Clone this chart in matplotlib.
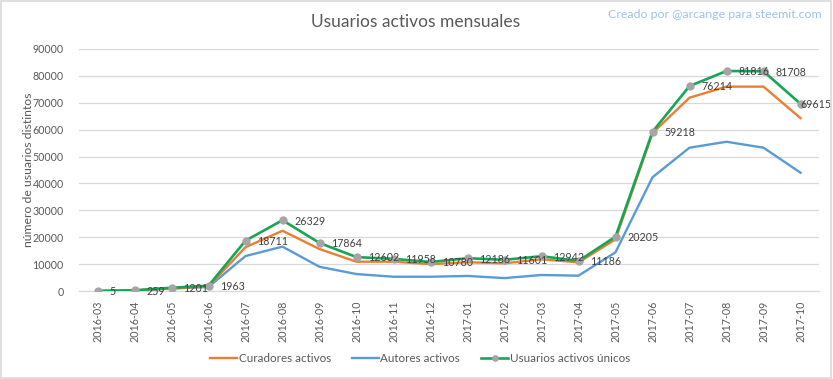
import matplotlib
matplotlib.use("Agg")
import matplotlib.pyplot as plt
from matplotlib.patches import Rectangle

months = ["2016-03", "2016-04", "2016-05", "2016-06", "2016-07", "2016-08", "2016-09",
          "2016-10", "2016-11", "2016-12", "2017-01", "2017-02", "2017-03", "2017-04",
          "2017-05", "2017-06", "2017-07", "2017-08", "2017-09", "2017-10"]
curadores = [0, 200, 1000, 1700, 16300, 22400, 15600, 10900, 10900, 10000, 10700,
             10300, 11800, 10650, 19200, 58700, 71900, 76000, 76000, 64300]
autores = [0, 200, 900, 1500, 13000, 16500, 9000, 6300, 5300, 5300, 5600,
           4800, 5950, 5700, 14400, 42300, 53300, 55500, 53300, 44000]
unicos = [5, 259, 1201, 1963, 18711, 26329, 17864, 12602, 11958, 10780, 12186,
          11601, 12942, 11186, 20205, 59218, 76214, 81816, 81708, 69615]
yticks = [0, 10000, 20000, 30000, 40000, 50000, 60000, 70000, 80000, 90000]

FONT = ["Lato", "DejaVu Sans"]
plt.rcParams["font.family"] = FONT
GRAY = "#595959"
FS = 7.7

fig = plt.figure(figsize=(8.33, 3.79), dpi=100)
fig.patches.append(Rectangle((0.001, 0.002), 0.997, 0.995, transform=fig.transFigure,
                             fill=False, edgecolor="#d9d9d9", linewidth=1.2))
ax = fig.add_axes([79 / 833, 1 - 291 / 379, 740 / 833, 242 / 379])

x = list(range(len(months)))
ax.plot(x, curadores, color="#ed7d31", lw=1.7, label="Curadores activos", zorder=3)
ax.plot(x, autores, color="#5b9bd5", lw=1.7, label="Autores activos", zorder=2)
ax.plot(x, unicos, color="#17a556", lw=1.9, marker="o", markersize=5,
        markerfacecolor="#a5a5a5", markeredgecolor="#a5a5a5",
        label="Usuarios activos únicos", zorder=4)

n = len(unicos)
for i, (xi, v) in enumerate(zip(x, unicos)):
    dx = 8.3 if i < n - 1 else -0.3
    ax.annotate(str(v), (xi, v), xytext=(dx, -0.6), textcoords="offset points",
                ha="left", va="center", fontsize=FS, color="#404040", zorder=5)

ax.set_xlim(-0.5, len(months) - 0.5)
ax.set_ylim(0, 90000)
ax.set_yticks(yticks)
ax.set_yticklabels([str(t) for t in yticks])
ax.set_xticks(x)
ax.set_xticklabels(months, rotation=90)
ax.tick_params(axis="both", length=0, colors=GRAY, labelsize=FS)
ax.tick_params(axis="y", pad=11)
ax.tick_params(axis="x", pad=7)
ax.grid(axis="y", color="#d9d9d9", linewidth=0.9)
ax.set_axisbelow(True)
for s in ["top", "right", "left"]:
    ax.spines[s].set_visible(False)
ax.spines["bottom"].set_color("#d9d9d9")
ax.spines["bottom"].set_linewidth(0.9)

ax.set_ylabel("número de usuarios distintos", color=GRAY, fontsize=8.8)
ax.yaxis.set_label_coords((34 - 79) / 740, 0.5)

fig.text(416 / 833, 1 - 22 / 379, "Usuarios activos mensuales", ha="center", va="center",
         fontsize=12.5, color=GRAY)
fig.text(822 / 833, 1 - 15 / 379, "Creado por @arcange para steemit.com", ha="right",
         va="center", fontsize=8.9, color="#9dc3e6")

leg = fig.legend(loc="center", bbox_to_anchor=(420 / 833, 1 - 359 / 379), ncol=3,
                 frameon=False, fontsize=8.4, handlelength=2.3, columnspacing=1.8,
                 handletextpad=0.15, labelcolor=GRAY)
leg.legend_handles[2].set_markersize(3.8)

fig.savefig("out.png", dpi=100)
